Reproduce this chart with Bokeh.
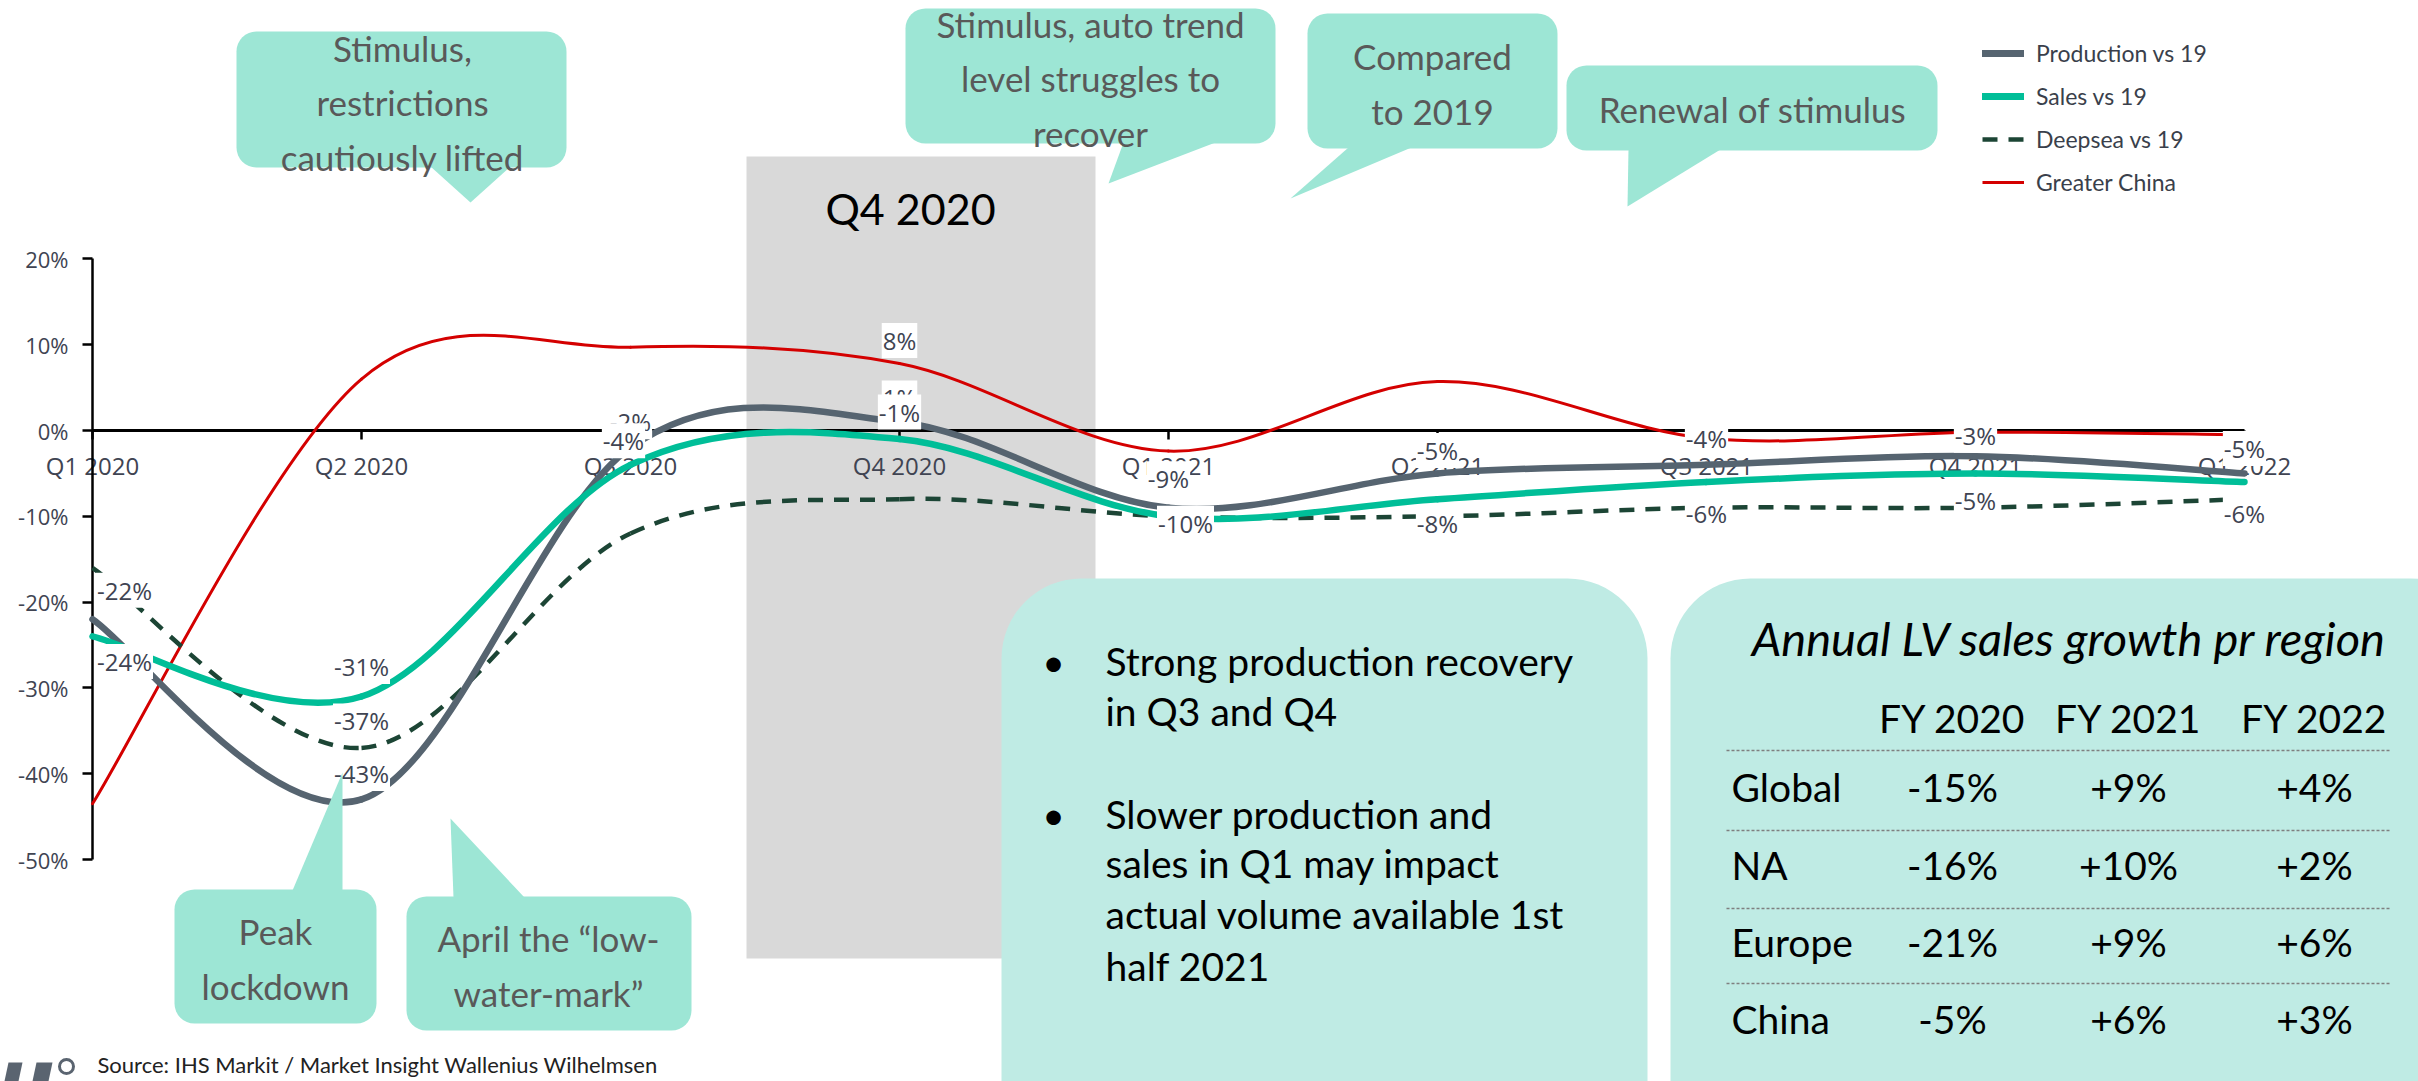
from bokeh.plotting import figure
from bokeh.models import (Range1d, LinearAxis, FixedTicker, BoxAnnotation, Label,
                          Legend, LegendItem, ColumnDataSource)
from bokeh.embed import file_html
from bokeh.resources import INLINE
from bokeh.core.properties import value

# ---------------- data ----------------
quarters = ["Q1 2020", "Q2 2020", "Q3 2020", "Q4 2020", "Q1 2021",
            "Q2 2021", "Q3 2021", "Q4 2021", "Q1 2022"]
production = [-22, -43, -2, 1, -9, -5, -4, -3, -5]
sales = [-24, -31, -4, -1, -10, -8, -6, -5, -6]
deepsea = [-16, -37, -12, -8, -10, -10, -9, -9, -8]
greater_china = [-43.5, 6, 9.7, 7.8, -2.4, 5.7, -0.9, -0.2, -0.5]

y_ticks = [-50, -40, -30, -20, -10, 0, 10, 20]
y_tick_labels = ["-50%", "-40%", "-30%", "-20%", "-10%", "0%", "10%", "20%"]

regions = ["Global", "NA", "Europe", "China"]
fy_headers = ["FY 2020", "FY 2021", "FY 2022"]
fy2020 = ["-15%", "-16%", "-21%", "-5%"]
fy2021 = ["+9%", "+10%", "+9%", "+6%"]
fy2022 = ["+4%", "+2%", "+6%", "+3%"]

series_names = ["Production vs 19", "Sales vs 19", "Deepsea vs 19", "Greater China"]

# ---------------- layout helpers (pixel -> data) ----------------
W, H = 2418, 1081
PX0, PXS = 92.0, 269.0     # pixel x of first quarter, pixels per quarter
PY0, PYS = 430.0, 8.58     # pixel y of 0 %, pixels per 1 %


def fx(px):
    return (px - PX0) / PXS


def fy(py):
    return (PY0 - py) / PYS


C_PROD = "#566470"
C_SALES = "#00BE98"
C_DEEP = "#1C4535"
C_RED = "#D40000"
C_BUBBLE = "#9DE6D5"
C_BOX = "#BFEBE4"
C_LBL = "#404452"

p = figure(width=W, height=H, x_range=Range1d(fx(0), fx(W)), y_range=Range1d(fy(H), fy(0)),
           x_axis_type=None, y_axis_type=None, toolbar_location=None,
           output_backend="svg", min_border=0, outline_line_color=None)
p.background_fill_color = "white"
p.border_fill_color = "white"

# Q4 2020 highlight
p.add_layout(BoxAnnotation(left=fx(746), right=fx(1095), top=fy(156), bottom=fy(958),
                           fill_color="#D9D9D9", fill_alpha=1, line_color=None, level="image"))

# bottom boxes
p.add_layout(BoxAnnotation(left=fx(1001), right=fx(1647), top=fy(578), bottom=fy(1200),
                           fill_color=C_BOX, fill_alpha=1, line_color=None, border_radius=80,
                           level="underlay"))
p.add_layout(BoxAnnotation(left=fx(1670), right=fx(2490), top=fy(578), bottom=fy(1200),
                           fill_color=C_BOX, fill_alpha=1, line_color=None, border_radius=80,
                           level="underlay"))

# axes
yaxis = LinearAxis(fixed_location=0, bounds=(-50, 20), ticker=FixedTicker(ticks=y_ticks),
                   major_label_overrides={t: s for t, s in zip(y_ticks, y_tick_labels)})
yaxis.major_tick_in = 0
yaxis.major_tick_out = 10
yaxis.minor_tick_line_color = None
yaxis.axis_line_color = "black"
yaxis.axis_line_width = 2.5
yaxis.major_tick_line_color = "black"
yaxis.major_tick_line_width = 2.5
yaxis.major_label_standoff = 14
yaxis.major_label_text_font = "Open Sans"
yaxis.major_label_text_font_size = "22px"
yaxis.major_label_text_color = C_LBL
yaxis.level = "underlay"
p.add_layout(yaxis, "left")

xaxis = LinearAxis(fixed_location=0, bounds=(0, 8), ticker=FixedTicker(ticks=list(range(len(quarters)))),
                   major_label_overrides={i: q for i, q in enumerate(quarters)})
xaxis.major_tick_in = 0
xaxis.major_tick_out = 9
xaxis.minor_tick_line_color = None
xaxis.axis_line_color = "black"
xaxis.axis_line_width = 3
xaxis.major_tick_line_color = "black"
xaxis.major_tick_line_width = 2.5
xaxis.major_label_standoff = 9
xaxis.major_label_text_font = "Open Sans"
xaxis.major_label_text_font_size = "24px"
xaxis.major_label_text_color = C_LBL
xaxis.level = "underlay"
p.add_layout(xaxis, "below")

xs = list(range(len(quarters)))


def smooth_segments(xv, yv):
    n = len(yv)
    d = dict(x0=[], y0=[], x1=[], y1=[], cx0=[], cy0=[], cx1=[], cy1=[])
    for i in range(n - 1):
        xa, ya, xb, yb = xv[i], yv[i], xv[i + 1], yv[i + 1]
        xp, yp = (xv[i - 1], yv[i - 1]) if i > 0 else (xa, ya)
        xn, yn = (xv[i + 2], yv[i + 2]) if i + 2 < n else (xb, yb)
        d["x0"].append(xa); d["y0"].append(ya)
        d["x1"].append(xb); d["y1"].append(yb)
        d["cx0"].append(xa + (xb - xp) / 6); d["cy0"].append(ya + (yb - yp) / 6)
        d["cx1"].append(xb - (xn - xa) / 6); d["cy1"].append(yb - (yn - ya) / 6)
    return ColumnDataSource(d)


def draw(vals, **kw):
    p.bezier(x0="x0", y0="y0", x1="x1", y1="y1", cx0="cx0", cy0="cy0", cx1="cx1", cy1="cy1",
             source=smooth_segments(xs, vals), **kw)


draw(greater_china, line_color=C_RED, line_width=3, line_cap="round")
draw(deepsea, line_color=C_DEEP, line_width=4.5, line_dash="15 11", line_cap="butt")
draw(production, line_color=C_PROD, line_width=6.5, line_cap="round")
draw(sales, line_color=C_SALES, line_width=6.5, line_cap="round")

# data labels (offsets in pixels)
prod_dx = [32, 0, 0, 0, 0, 0, 0, 0, 0]
prod_dy = [-29, -26, -26, -24, -29, -23, -26, -21, -25]
sales_dx = [32, 0, -7, 0, 17, 0, 0, 0, 0]
sales_dy = [25, -30, -24, -27, 7, 24, 32, 27, 32]


def pct(v):
    return "%d%%" % round(v)


lab = dict(x=[], y=[], text=[], dx=[], dy=[])
for i in xs:
    lab["x"].append(i); lab["y"].append(production[i]); lab["text"].append(pct(production[i]))
    lab["dx"].append(prod_dx[i]); lab["dy"].append(prod_dy[i])
lab["x"].append(1); lab["y"].append(deepsea[1]); lab["text"].append(pct(deepsea[1]))
lab["dx"].append(0); lab["dy"].append(-27)
lab["x"].append(3); lab["y"].append(greater_china[3]); lab["text"].append(pct(greater_china[3]))
lab["dx"].append(0); lab["dy"].append(-23)
for i in xs:
    lab["x"].append(i); lab["y"].append(sales[i]); lab["text"].append(pct(sales[i]))
    lab["dx"].append(sales_dx[i]); lab["dy"].append(sales_dy[i])

p.text(x="x", y="y", text="text", x_offset="dx", y_offset="dy", source=ColumnDataSource(lab),
       text_font=value("Open Sans"), text_font_size="24px", text_color=C_LBL,
       text_align="center", text_baseline="middle", background_fill_color="white", padding=1)

# Q4 2020 caption
p.text(x=[fx(910)], y=[fy(208)], text=["Q4 2020"], text_font=value("Lato"), text_font_size="43px",
       text_color="black", text_align="center", text_baseline="middle")

# callout bubbles: box (l, t, r, b), tail polygon, text centre, text
bubbles = [
    ((236, 31, 566, 167), [(430, 166), (510, 166), (470, 202)], (402, 102),
     "Stimulus,\nrestrictions\ncautiously lifted"),
    ((905, 8, 1275, 143), [(1123, 142), (1215, 142), (1108, 183)], (1090, 78),
     "Stimulus, auto trend\nlevel struggles to\nrecover"),
    ((1307, 13, 1557, 148), [(1348, 147), (1411, 147), (1290, 198)], (1432, 83),
     "Compared\nto 2019"),
    ((1566, 65, 1937, 150), [(1628, 149), (1720, 149), (1627, 206)], (1752, 108),
     "Renewal of stimulus"),
    ((174, 889, 376, 1023), [(292, 890), (342, 890), (342, 772)], (275, 958),
     "Peak\nlockdown"),
    ((406, 896, 691, 1030), [(450, 818), (453, 897), (524, 897)], (548, 965),
     "April the \u201clow-\nwater-mark\u201d"),
]
for (l, t, r, b), tail, (cx, cy), txt in bubbles:
    p.add_layout(BoxAnnotation(left=fx(l), right=fx(r), top=fy(t), bottom=fy(b),
                               fill_color=C_BUBBLE, fill_alpha=1, line_color=None,
                               border_radius=20, level="annotation"))
    p.patch(x=[fx(a) for a, _ in tail], y=[fy(c) for _, c in tail], fill_color=C_BUBBLE,
            line_color=None, level="annotation")
    p.add_layout(Label(x=fx(cx), y=fy(cy), text=txt, text_align="center", text_baseline="middle",
                       text_font="Lato", text_font_size="35px", text_color="#595959",
                       text_line_height=1.29, level="overlay"))

# bullet box
bullet_lines = ["Strong production recovery", "in Q3 and Q4", "Slower production and",
                "sales in Q1 may impact", "actual volume available 1st", "half 2021"]
bullet_y = [660, 710, 813, 862, 913, 965]
p.text(x=[fx(1105)] * len(bullet_lines), y=[fy(v) for v in bullet_y], text=bullet_lines,
       text_font=value("Lato"), text_font_size="39px", text_color="black",
       text_align="left", text_baseline="middle")
p.text(x=[fx(1053), fx(1053)], y=[fy(660), fy(813)], text=["\u2022", "\u2022"],
       text_font=value("Lato"), text_font_size="39px", text_color="black",
       text_align="center", text_baseline="middle")

# table
p.text(x=[fx(2069)], y=[fy(637)], text=["Annual LV sales growth pr region"],
       text_font=value("Lato"), text_font_size="47px", text_font_style="italic",
       text_color="black", text_align="center", text_baseline="middle")
col_x = [1952, 2128, 2314]
row_y = [786, 864, 941, 1018]
sep_y = [750, 830, 908, 983]
p.text(x=[fx(c) for c in col_x], y=[fy(717)] * 3, text=fy_headers,
       text_font=value("Lato"), text_font_size="39px", text_color="black",
       text_align="center", text_baseline="middle")
p.segment(x0=[fx(1726)] * 4, x1=[fx(2389)] * 4, y0=[fy(v) for v in sep_y], y1=[fy(v) for v in sep_y],
          line_color="#7F7F7F", line_width=1.5, line_dash="3 2")
p.text(x=[fx(1731)] * 4, y=[fy(v) for v in row_y], text=regions,
       text_font=value("Lato"), text_font_size="39px", text_color="black",
       text_align="left", text_baseline="middle")
for c, col in zip(col_x, [fy2020, fy2021, fy2022]):
    p.text(x=[fx(c)] * 4, y=[fy(v) for v in row_y], text=col,
           text_font=value("Lato"), text_font_size="39px", text_color="black",
           text_align="center", text_baseline="middle")

# legend (proxy renderers with a single NaN point, so only the legend glyph shows)
nan = float("nan")
r1 = p.line(x=[nan], y=[nan], line_color=C_PROD, line_width=7, line_cap="round")
r2 = p.line(x=[nan], y=[nan], line_color=C_SALES, line_width=7, line_cap="round")
r3 = p.line(x=[nan], y=[nan], line_color=C_DEEP, line_width=4.5, line_dash="15 11")
r4 = p.line(x=[nan], y=[nan], line_color=C_RED, line_width=3)
legend = Legend(items=[LegendItem(label=n, renderers=[r]) for n, r in zip(series_names, [r1, r2, r3, r4])],
                location=(1982, 885), orientation="vertical", border_line_color=None,
                background_fill_alpha=0, padding=0, margin=0, spacing=15,
                glyph_width=42, glyph_height=28, label_height=28, label_standoff=12,
                label_text_font="Lato", label_text_font_size="23px", label_text_color="#3A3F4B")
p.add_layout(legend, "center")

# source + logo
p.text(x=[fx(97)], y=[fy(1064)], text=["Source: IHS Markit / Market Insight Wallenius Wilhelmsen"],
       text_font=value("Lato"), text_font_size="22px", text_color="#222222",
       text_align="left", text_baseline="alphabetic")
p.patches(xs=[[fx(2), fx(16), fx(22), fx(8)], [fx(30), fx(46), fx(52), fx(36)]],
          ys=[[fy(1090), fy(1090), fy(1062), fy(1062)], [fy(1090), fy(1090), fy(1062), fy(1062)]],
          fill_color="#5A6470", line_color=None)
p.scatter(x=[fx(66)], y=[fy(1066)], size=14, marker="circle", fill_color=None,
          line_color="#5A6470", line_width=3)

open("out.html", "w").write(file_html(p, INLINE))
